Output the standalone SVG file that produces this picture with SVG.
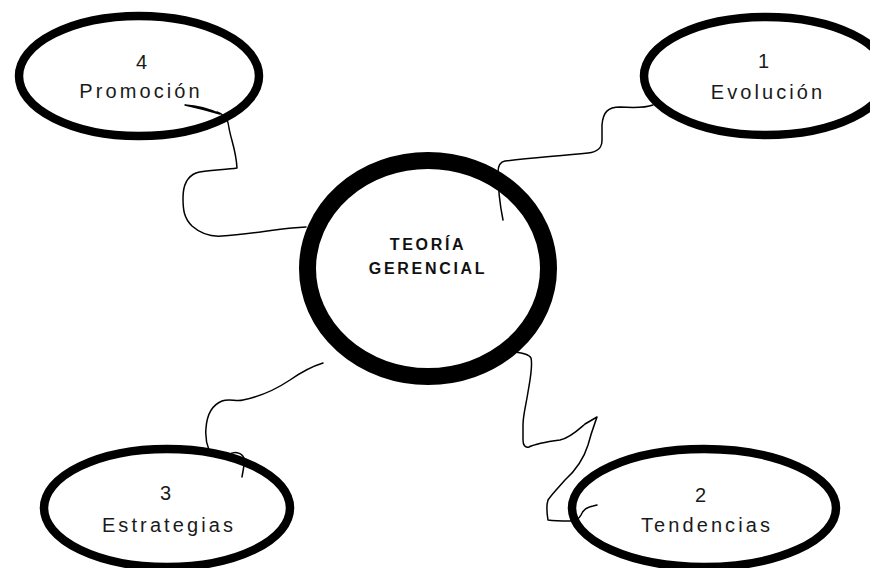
<svg xmlns="http://www.w3.org/2000/svg" width="870" height="568" viewBox="0 0 870 568">
<style>
.bg{fill:#ffffff}
.oval{fill:#ffffff;stroke:#000000;stroke-width:8.5}
.hub{fill:#ffffff;stroke:#000000;stroke-width:17}
.lbl{font-family:"Liberation Sans",Arial,sans-serif;font-size:20px;letter-spacing:3.1px;fill:#1a1a1a;text-anchor:middle}
.hubt{font-family:"Liberation Sans",Arial,sans-serif;font-size:16px;font-weight:bold;letter-spacing:2.7px;fill:#111111;text-anchor:middle}
.wire{fill:none;stroke:#000000;stroke-width:1.5;stroke-linejoin:round;stroke-linecap:round}
</style>
<rect class="bg" x="0" y="0" width="870" height="568"/>
<g id="node-promocion">
<ellipse class="oval" cx="139" cy="76" rx="120" ry="60"/>
<text class="lbl" x="143" y="69">4</text>
<text class="lbl" x="141" y="98">Promoción</text>
</g>
<g id="node-evolucion">
<ellipse class="oval" cx="766" cy="76" rx="122" ry="59"/>
<text class="lbl" x="765" y="68">1</text>
<text class="lbl" x="768" y="99">Evolución</text>
</g>
<g id="node-estrategias">
<ellipse class="oval" cx="167" cy="508" rx="123" ry="59"/>
<text class="lbl" x="167" y="500">3</text>
<text class="lbl" x="169" y="532">Estrategias</text>
</g>
<g id="node-tendencias">
<ellipse class="oval" cx="704" cy="508" rx="132" ry="59"/>
<text class="lbl" x="702" y="502">2</text>
<text class="lbl" x="707" y="532">Tendencias</text>
</g>
<g id="node-teoria">
<ellipse class="hub" cx="428" cy="268.5" rx="120.5" ry="108"/>
<text class="hubt" x="428" y="250">TEORÍA</text>
<text class="hubt" x="428" y="274">GERENCIAL</text>
</g>
<g id="connectors">
<path class="wire" d="M185,105 Q203,106 220,114 Q203,109 185,105 Z"/>
<path class="wire" d="M217,112 C224,114 228,118 229,128 C231,140 236,150 237,168 C225,170 205,170 196,173 C186,177 183,186 183,198 C183,210 184,218 192,226 C200,233 210,237 222,236 C245,235 270,230 292,228 L306,227"/>
<path class="wire" d="M653,105 C645,108 635,108 620,107 C608,107 603,112 602,125 L602,140 C602,148 598,152 588,153 C560,156 530,158 505,161 C500,162 498,166 498,172 C498,190 500,205 503,220"/>
<path class="wire" d="M323,363 C310,367 300,373 290,380 C275,390 258,397 243,400 C236,402 230,398 222,401 C212,405 207,415 206,428 C205,438 207,445 209,450"/>
<path class="wire" d="M228,455 C234,451 241,452 244,458 C245,464 243,470 242,477"/>
<path class="wire" d="M515,352 C522,353 529,354 531,358 C533,366 530,380 528,392 C526,405 523,415 523,425 L523,440 C523,445 525,448 529,447 C535,444 545,442 560,440 C570,438 578,430 585,424 L597,417 C595,423 592,430 588,445 C584,458 576,470 565,480 C558,488 552,494 548,500 C546,506 547,514 548,520 C555,521 562,521 570,521 C575,521 579,519 581,515 C583,510 587,507 593,506 L597,505"/>
</g>
</svg>
